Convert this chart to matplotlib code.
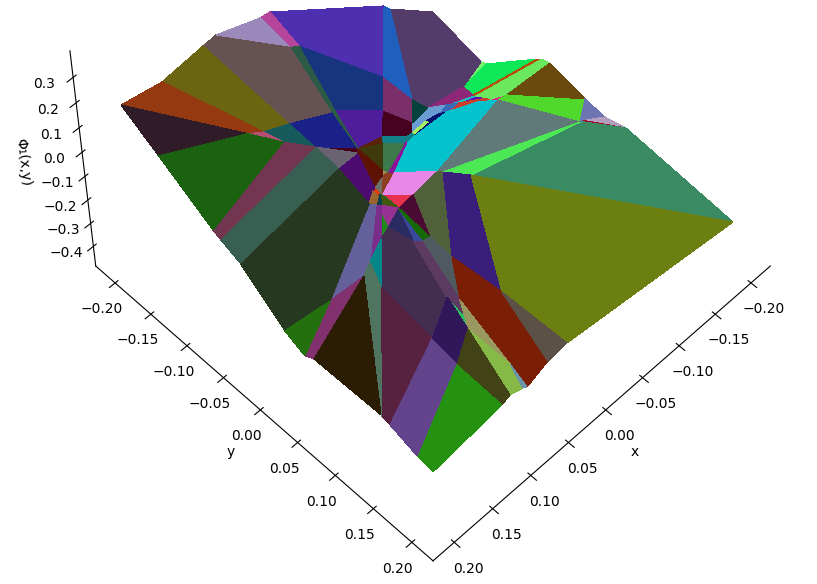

import numpy as np
import matplotlib
matplotlib.use('Agg')
import matplotlib.pyplot as plt
from mpl_toolkits.mplot3d.art3d import Poly3DCollection

# Surface vertices of the piecewise-linear function (units of 1e-4)
vertex_names = ("L b1 b2 b3 b4 b5 b6 b7 T r1 r2 r3 r4 r5 r6 r7 r8 R s1 s2 s3 s4 s5 s6 B "
                "t1 t2 t3 t4 t5 t6 t7 t8 t9 t10 t11 i1 i2 i3 i4 i5 i6 i7 i8 i9 i10 i11 "
                "i12 i13 i14 i15 i16 i17 i18 i19 i20 i21 i22 i23 i24 i25 i27 i28 i29 i30 i31 i32 i33 "
                "i35 i36 i37 i38 i40 i41 i42 i46 i47 i48 i49 i51 i52 i53 i54 i55 i56 i57 i58 i59 i61 i64 i65 i66 "
                "j1 j2 j3 j4 j5 j7 c2 c3 c4 c5 c6 c7 c8 g1 g2 g13 g3 g4 g5 g6 g7 g8 g9 g10 g11 g12").split()
vx = [1980,1485,971,807,263,136,-1317,-1410,-2000,-2000,-2000,-2000,-2000,-2000,-2000,-2000,-2000,-1977,280,527,796,849,1019,1121,2000,2000,2000,2000,2000,2000,2000,2000,2000,2000,2000,2000,1165,1005,714,876,600,251,142,163,106,183,170,-767,-448,-196,-129,-480,-356,117,97,40,-407,350,216,345,190,351,394,389,479,533,435,305,305,311,-606,263,-1027,-826,-532,-835,-562,-658,-894,563,501,330,469,400,673,1085,601,770,1113,758,676,706,957,1097,1490,533,705,1052,-1138,-1510,-1624,-389,66,332,-420,-1776,-1817,-1805,-1663,-1695,-1590,-1575,-1583,-1623,-1620,-1350,-1201,-989]
vy = [-2000,-2000,-2000,-2000,-2000,-2000,-2000,-2000,-2001,-1333,-1251,-586,-521,-415,54,320,591,2000,2000,2000,2000,2000,2000,2000,1999,1809,1454,1364,1339,473,352,95,-471,-727,-817,-1510,-1262,-1209,-1174,-1073,-943,-1630,-1613,-1184,-1190,-835,-821,-1457,-1133,-877,-808,-816,-745,-557,-512,-490,-756,-334,-788,-418,-483,-346,-328,-400,-268,-305,-247,-143,265,559,-99,1158,-959,-921,-828,-903,-818,-942,-1180,-26,-180,-130,220,255,854,1071,950,1221,1420,1746,896,1119,138,202,159,-712,27,378,-948,-907,-734,-322,-198,-313,-287,204,217,229,-773,-671,-1177,-1024,-992,-868,-825,-1008,-1038,-1058]
vz = [1861,1531,1683,1716,1064,995,-2272,-2622,-4175,-4667,-4549,-2690,-2529,-2434,-2767,-2853,-2625,-2879,-1857,-1933,-2293,-2182,-1992,-2133,-2479,-2385,-2029,-1985,-1927,-2002,-2218,-1862,-532,-223,-88,1160,537,342,11,-91,-673,821,598,-968,-1083,-1516,-1554,-2542,-2347,-2142,-2084,-2673,-2509,-1889,-1950,-2044,-2585,-1742,-1517,-1684,-1839,-1732,-1694,-1644,-1648,-1560,-1710,-1906,-2046,-2084,-2798,-2072,-3505,-3194,-2753,-3215,-2807,-2902,-3133,-1748,-1693,-1887,-1935,-1987,-2033,-2037,-2054,-2073,-2090,-2131,-2040,-2064,-1681,-1721,-1822,-1123,-1692,-1832,-3675,-4088,-3853,-2642,-2135,-1778,-2674,-2790,-2797,-2799,-3920,-3616,-4327,-4247,-4228,-4102,-4031,-3979,-3765,-3406]

faces = ["L i1 t11","L b1 i2 i1","i1 i2 i4","b1 b2 i3 i2","b2 b3 i6 i8 i3","b3 b4 i6","b4 b5 i7 i6",
"b5 b6 i12 i7","b6 b7 i49 i12","b7 T r1 g5 g12 i49","i7 i12 i13 i9","i9 i13 i14 i11","i6 i7 i9 i11 i10 i8","i3 i8 i10 i5",
"i2 i3 i5 i4","t11 i1 i4 t10","i4 i5 t9 t10","i5 j4 t8 t9","i5 i23 j4","i5 i10 i23","j4 i31 j3 t7 t8","j4 i23 i24 i29 i31",
"i14 i15 i11","i11 i15 i18","i23 i10 i11 i18 i25 i24","i14 i16 i42 i47 i21 i17 i15","i15 i17 i19 i18","i17 i21 i20 i19","i18 i19 i25","i25 i19 i20 i22","i25 i22 i27 i24","i24 i27 i28 i29","i29 i28 i30 i31","i27 i22 i32 i30 i28","i22 i33 i32","i22 c7 i33",
"c7 c6 i33","i22 i20 c5 c6","i20 i21 c2 c3 c4 c5","c6 i35 i33","c5 c8 i36 i35 c6","c8 i37 i38 i36","c4 g1 c8 c5","g1 i37 c8","g1 g13 r8 R i37","g13 g2 r8","i37 R s1 i38",
"g4 r6 g1 c4","g4 r5 r6","r6 r7 g2 g1","g2 r7 r8","g5 r2 r3 g6","r1 r2 g5","g6 r3 r4 g7","g7 r4 r5 g4 g3 g9 g8","g9 g4 c4","g10 g7 g8","g11 g6 g7 g10","g12 g5 g6 g11",
"g12 g11 i40 i41 i42 i48","g11 g10 c2 i40","g10 g8 g9 c4 c3 c2","i21 i47 i46 i41 i40 c2","i42 i41 i46 i47","i12 i49 i48 i13","i13 i48 i42 i16 i14","i49 g12 i48",
"i31 i30 j1 j2 j3","i30 i32 j5 j1","j5 j7 j1","j1 j7 t3 t4 j2","j2 t4 t5","j3 j2 t5 t6","t7 j3 t6",
"i32 i33 i53 i51 i52","i52 i51 j5","i53 i54 i51","i53 i55 i54","i33 i35 i55 i53","i51 i54 i56 i57 j7 j5","j7 i57 t2 t3","i54 i55 i58 i66 i65 i56","i55 i35 i36 i58","i36 i38 s2 s3 i64 i58",
"i56 i65 i59 i61 i57","i65 i66 i59","i57 i61 t1 t2","i61 s6 B t1","i59 s5 s6 i61","i59 i64 s4 s5","i58 i64 i59 i66","i64 s3 s4","i38 s1 s2"]
face_colors = ["#301c29","#953a10","#b34f72","#6b6410","#675253","#9b89bb","#b4459a",
"#4e2fb0","#1f5fbe","#533b6a","#17357e","#4f1d9c","#2b5a47","#1a2188",
"#175a5c","#1b6210","#733650","#395f52","#696270","#44001c","#26381f","#4c0b6f",
"#5c2208","#3e3a0b","#5d1203","#128089","#3c7a4c","#8a1399","#a28a53","#8e3e22","#6f7068","#dc3d0a","#9a6630","#06404f","#3f5a0c","#116f28",
"#e8304f","#e887e8","#05c2cd","#4a0a33","#4f603a","#3a1e7c","#5f7a78","#4ce855","#3a8b63","#a6052b","#6b8010",
"#50d92c","#6b4a0e","#6c75b2","#b49ec0","#0de858","#72f06e","#b5500b","#6ce85e","#e41a8f","#5a0bb3","#1fc0c0","#8e2778",
"#6b9bd3","#3a6ab8","#c8402d","#06116e","#a5f05e","#7a2f6b","#450320","#06423c",
"#63609b","#7b2d8b","#04878a","#4f7560","#2a1d03","#83306f","#24700f",
"#983191","#228a1c","#2c2a62","#3a4a9a","#156a05","#432d50","#582140","#5c3a62","#4e5a60","#7a1e05",
"#30175a","#2abf60","#63438b","#249210","#414317","#87b948","#98985f","#6a94a8","#5b5146"]
xy_ticks = [-0.2,-0.15,-0.1,-0.05,0,0.05,0.1,0.15,0.2]
z_ticks = [-0.4,-0.3,-0.2,-0.1,0,0.1,0.2,0.3]

fig = plt.figure(figsize=(8.17,5.84), dpi=100)
ax = fig.add_axes((0.0458,0.0446,0.9430,1.3190), projection='3d')
ax.view_init(elev=55, azim=45)
ax.set_box_aspect((4,4,3.03))
ax.set_xlim(-0.2273,0.2273); ax.set_ylim(-0.2273,0.2273); ax.set_zlim(-0.487,0.403)
ax.set_xticks(xy_ticks); ax.set_yticks(xy_ticks); ax.set_zticks(z_ticks)
ax.grid(False)
for a in (ax.xaxis, ax.yaxis, ax.zaxis):
    a.pane.set_visible(False)
ax.set_xlabel('x'); ax.set_ylabel('y'); ax.set_zlabel('Φ₁(x,y)')

verts = {n:(x*1e-4, y*1e-4, z*1e-4) for n,x,y,z in zip(vertex_names, vx, vy, vz, strict=True)}
polys = [[verts[n] for n in f.split()] for f in faces]
ax.add_collection3d(Poly3DCollection(polys, facecolors=face_colors, edgecolors='none',
                                     linewidths=0, antialiased=False))
fig.savefig('out.png', dpi=100)
